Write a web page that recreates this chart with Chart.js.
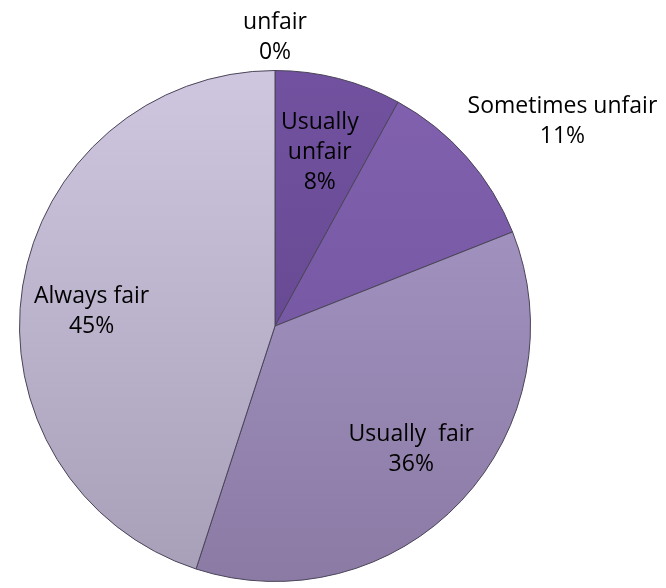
<!DOCTYPE html>
<html>
<head>
<meta charset="utf-8">
<script src="https://cdn.jsdelivr.net/npm/chart.js@4/dist/chart.umd.min.js"></script>
<style>
  html, body { margin: 0; padding: 0; background: #fff; }
  #wrap { width: 666px; height: 588px; }
</style>
</head>
<body>
<div id="wrap"><canvas id="c"></canvas></div>
<script>
// data
const categories = ["Always unfair", "Usually unfair", "Sometimes unfair", "Usually fair", "Always fair"];
const values = [0, 8, 11, 36, 45];
const labelLines = [["unfair", "0%"], ["Usually", "unfair", "8%"], ["Sometimes unfair", "11%"], ["Usually  fair", "36%"], ["Always fair", "45%"]];

// colours, top / bottom of each slice gradient
const topColors = ["#7050a0", "#7252a0", "#8262b0", "#ab9bcb", "#cfc7e0"];
const bottomColors = ["#5e4288", "#5e4288", "#6c4f98", "#8a7aa4", "#a79fb8"];

// label placement: [radius factor, angle in degrees clockwise from top]
const labelPos = [[1.13, 0], [0.70, 14.5], [1.38, 54.6], [0.72, 132.2], [0.72, 274.4]];

function sliceFill(ctx) {
  const chart = ctx.chart;
  const area = chart.chartArea;
  if (!area) return topColors[ctx.dataIndex];
  const g = chart.ctx.createLinearGradient(0, area.top, 0, area.bottom);
  g.addColorStop(0, topColors[ctx.dataIndex]);
  g.addColorStop(1, bottomColors[ctx.dataIndex]);
  return g;
}

const pieLabels = {
  id: "pieLabels",
  afterDatasetsDraw(chart) {
    const ctx = chart.ctx;
    const arc = chart.getDatasetMeta(0).data[0];
    const cx = arc.x, cy = arc.y, r = arc.outerRadius;
    ctx.save();
    ctx.font = "23px 'Open Sans'";
    ctx.fillStyle = "#000";
    ctx.textAlign = "center";
    ctx.textBaseline = "middle";
    const lh = 30;
    labelLines.forEach((lines, i) => {
      const [f, deg] = labelPos[i];
      const a = deg * Math.PI / 180;
      const x = cx + f * r * Math.sin(a);
      const y = cy - f * r * Math.cos(a);
      const y0 = y - (lines.length - 1) * lh / 2;
      lines.forEach((t, j) => ctx.fillText(t, x, y0 + j * lh));
    });
    ctx.restore();
  }
};

new Chart(document.getElementById("c"), {
  type: "pie",
  data: {
    labels: categories,
    datasets: [{
      data: values,
      backgroundColor: sliceFill,
      borderColor: "#4a4458",
      borderWidth: 1
    }]
  },
  options: {
    responsive: true,
    maintainAspectRatio: false,
    animation: false,
    layout: { padding: { left: 19, right: 135, top: 70, bottom: 6 } },
    plugins: {
      legend: { display: false },
      tooltip: { enabled: false }
    }
  },
  plugins: [pieLabels]
});
</script>
</body>
</html>
